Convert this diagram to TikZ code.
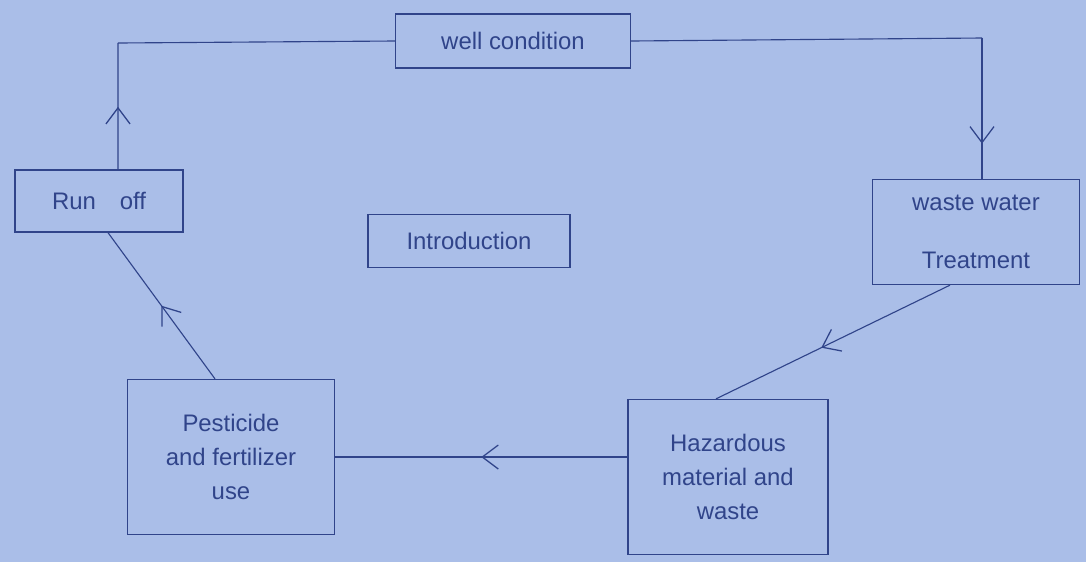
\documentclass[tikz,border=0pt]{standalone}
\usepackage{fontspec}
\setmainfont{Liberation Sans}
\usetikzlibrary{arrows.meta,decorations.markings}
\definecolor{paper}{RGB}{170,190,232}
\definecolor{ink}{RGB}{48,68,138}
\tikzset{
  box/.style={draw=ink, line width=0.9pt, text=ink, align=center, inner sep=2pt,
    font=\fontsize{17}{24}\selectfont},
  conn/.style={draw=ink, line width=0.8pt},
  midarrow/.style={postaction={decorate}, decoration={markings,
    mark=at position #1 with {\arrow{Straight Barb[length=4mm,width=6mm,line width=0.9pt]}}}}
}
\begin{document}
\begin{tikzpicture}[x=0.025cm,y=-0.025cm]
\fill[paper] (0,0) rectangle (1086,562);
\useasboundingbox (0,0) rectangle (1086,562);

\node[box, minimum width=5.875cm, minimum height=1.35cm] (well) at (513,41) {well condition};
\node[box, minimum width=5.175cm, minimum height=2.625cm] (waste) at (976,232) {waste water\\[0.6cm]Treatment};
\node[box, minimum width=5cm, minimum height=3.875cm] (haz) at (728,477) {Hazardous\\material and\\waste};
\node[box, minimum width=5.175cm, minimum height=3.875cm] (pest) at (231,457) {Pesticide\\and fertilizer\\use};
\node[box, minimum width=4.2cm, minimum height=1.55cm] (run) at (99,201) {Run\quad off};
\node[box, minimum width=5.05cm, minimum height=1.325cm] (intro) at (469,241) {Introduction};

\coordinate (c1) at (118,43);
\coordinate (c2) at (982,38);

\draw[conn, midarrow=0.5] ([xshift=0.475cm]run.north) -- (c1 |- 0,170) -- (c1);
\draw[conn] (c1) -- (well.west);
\draw[conn] (well.east) -- (c2);
\draw[conn, midarrow=0.75] (c2) -- (c2 |- waste.north);
\draw[conn, midarrow=0.55] ([xshift=-0.65cm]waste.south) -- ([xshift=-0.3cm]haz.north);
\draw[conn, midarrow=0.5] (pest.east -| haz.west) -- (pest.east);
\draw[conn, midarrow=0.5] ([xshift=-0.4cm]pest.north) -- ([xshift=0.225cm]run.south);
\end{tikzpicture}
\end{document}
